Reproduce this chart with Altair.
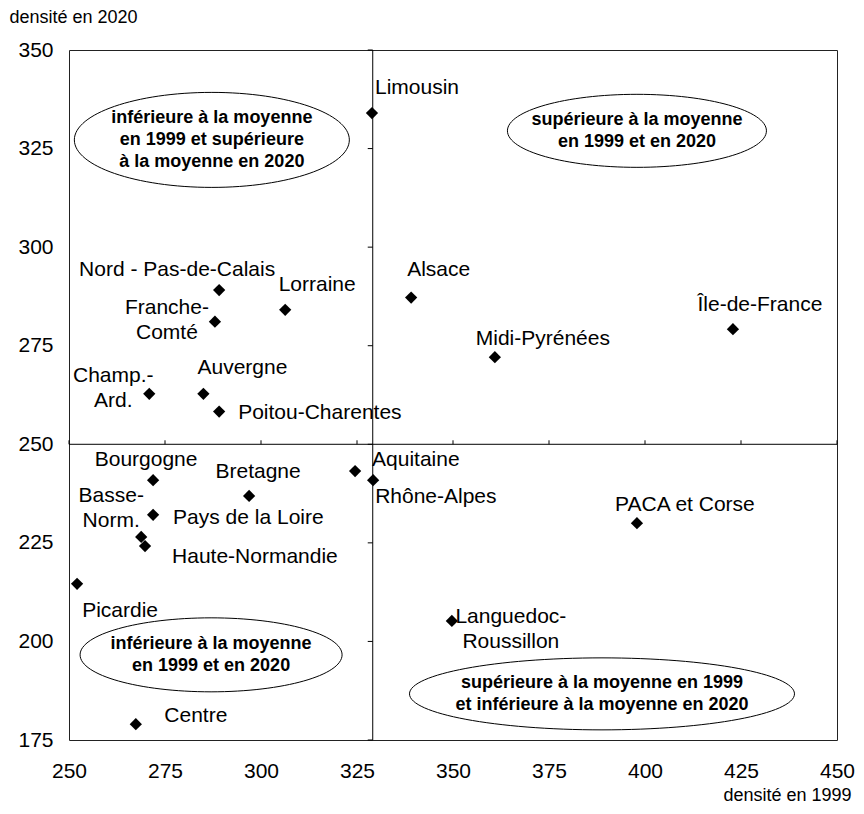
import altair as alt
import pandas as pd

# ---------------- data ----------------
regions = ["Limousin", "Nord - Pas-de-Calais", "Lorraine", "Franche-Comté", "Alsace",
           "Champ.-Ard.", "Auvergne", "Poitou-Charentes", "Île-de-France", "Midi-Pyrénées",
           "Bourgogne", "Basse-Norm.", "Bretagne", "Aquitaine", "Rhône-Alpes",
           "Pays de la Loire", "Haute-Normandie", "Picardie", "PACA et Corse",
           "Languedoc-Roussillon", "Centre"]
dens_1999 = [328.9, 289.1, 306.3, 288.0, 339.1,
             270.9, 285.0, 289.1, 422.9, 360.9,
             271.9, 268.8, 296.9, 324.5, 329.2,
             271.9, 269.8, 252.1, 397.9,
             349.7, 267.4]
dens_2020 = [334.0, 289.1, 284.1, 281.1, 287.2,
             262.8, 262.8, 258.3, 279.2, 272.1,
             240.9, 226.5, 236.9, 243.2, 240.9,
             232.1, 224.2, 214.6, 230.0,
             205.2, 179.0]
label_text = ["Limousin", "Nord - Pas-de-Calais", "Lorraine", "Franche-\nComté", "Alsace",
              "Champ.-\nArd.", "Auvergne", "Poitou-Charentes", "Île-de-France", "Midi-Pyrénées",
              "Bourgogne", "Basse-\nNorm.", "Bretagne", "Aquitaine", "Rhône-Alpes",
              "Pays de la Loire", "Haute-Normandie", "Picardie", "PACA et Corse",
              "Languedoc-\nRoussillon", "Centre"]

x_ticks = [250, 275, 300, 325, 350, 375, 400, 425, 450]
y_ticks = [175, 200, 225, 250, 275, 300, 325, 350]
mean_1999 = 329.1
mean_2020 = 250

quadrant_text = ["inférieure à la moyenne\nen 1999 et supérieure\nà la moyenne en 2020",
                 "supérieure à la moyenne\nen 1999 et en 2020",
                 "inférieure à la moyenne\nen 1999 et en 2020",
                 "supérieure à la moyenne en 1999\net inférieure à la moyenne en 2020"]
quadrant_x = [287.2, 397.9, 287.0, 388.8]
quadrant_y = [327.2, 329.5, 196.6, 186.7]

# ---------------- styling / placement ----------------
FONT = "Liberation Sans"
W, H = 768, 690
xs = alt.Scale(domain=[250, 450], nice=False, zero=False)
ys = alt.Scale(domain=[175, 350], nice=False, zero=False)

X_AXIS = alt.Axis(values=x_ticks, title="densité en 1999", grid=False, ticks=False, domain=False,
                  labelFlush=False, labelPadding=20, labelFontSize=21, labelFont=FONT,
                  labelColor="black",
                  titleFont=FONT, titleFontSize=18, titleFontWeight="normal", titleColor="black",
                  titleAlign="right", titleBaseline="middle", titleX=782, titleY=55)
Y_AXIS = alt.Axis(values=y_ticks, title="densité en 2020", grid=False, ticks=False, domain=False,
                  labelFlush=False, labelPadding=16, labelFontSize=21, labelFont=FONT,
                  labelColor="black",
                  titleFont=FONT, titleFontSize=18, titleFontWeight="normal", titleColor="black",
                  titleAngle=0, titleAlign="left", titleBaseline="middle", titleX=-60, titleY=-33)


def ex(f):
    return alt.X(f, type="quantitative", scale=xs, axis=X_AXIS)


def ey(f):
    return alt.Y(f, type="quantitative", scale=ys, axis=Y_AXIS)


# (align, dx, dy) for each label (dy = centre of the text block)
label_place = [("left", 3, -25), ("center", -42, -20), ("center", 32, -25), ("center", -48, -1),
               ("left", -4, -28), ("center", -36, -5), ("center", 39, -26), ("left", 19, 1),
               ("center", 27, -24), ("center", 48, -18), ("center", -7, -20), ("center", -30, -28),
               ("center", 9, -24), ("left", 17, -11), ("left", 2, 17), ("left", 20, 3),
               ("left", 27, 11), ("center", 43, 27), ("center", 48, -18), ("center", 59, 9),
               ("center", 60, -8)]
LABEL_LH = 25
# ellipse sizes in pixels (width, height)
ellipse_px = [(275, 95), (259, 73), (262, 74), (385, 72)]
QUAD_LH = 22

pts = pd.DataFrame({"region": regions, "x": dens_1999, "y": dens_2020, "label": label_text})

points = alt.Chart(pts).mark_point(shape="diamond", filled=True, color="black", size=150,
                                   opacity=1).encode(x=ex("x"), y=ey("y"))

# mean lines
vline = alt.Chart(pd.DataFrame({"m": [mean_1999]})).mark_rule(color="black", strokeWidth=1).encode(
    x=ex("m"))
hline = alt.Chart(pd.DataFrame({"m": [mean_2020]})).mark_rule(color="black", strokeWidth=1).encode(
    y=ey("m"))

# small ticks on the mean lines
vticks = alt.Chart(pd.DataFrame({"t": y_ticks, "m": [mean_1999] * len(y_ticks)})).mark_rule(
    color="black", strokeWidth=1, x2Offset=-5).encode(x=ex("m"), x2="m:Q", y=ey("t"))
hticks = alt.Chart(pd.DataFrame({"t": x_ticks, "m": [mean_2020] * len(x_ticks)})).mark_rule(
    color="black", strokeWidth=1, y2Offset=-4).encode(y=ey("m"), y2="m:Q", x=ex("t"))

layers = [vline, hline, vticks, hticks]

# quadrant ellipses and their texts
for i in range(len(quadrant_text)):
    w, h = ellipse_px[i]
    r = h / w
    path = f"M -1 0 A 1 {r:.4f} 0 0 1 1 0 A 1 {r:.4f} 0 0 1 -1 0 Z"
    d = pd.DataFrame({"x": [quadrant_x[i]], "y": [quadrant_y[i]], "t": [quadrant_text[i]]})
    ell = alt.Chart(d).mark_point(shape=path, size=w * w, filled=False, stroke="black",
                                  strokeWidth=1, opacity=1).encode(x=ex("x"), y=ey("y"))
    nlines = quadrant_text[i].count("\n") + 1
    txt = alt.Chart(d).mark_text(font=FONT, fontSize=18, fontWeight="bold", color="black",
                                 lineBreak="\n", lineHeight=QUAD_LH, align="center",
                                 baseline="middle", dy=-(nlines - 1) * QUAD_LH / 2).encode(
        x=ex("x"), y=ey("y"), text="t:N")
    layers += [ell, txt]

# point labels
for i in range(len(regions)):
    a, dx, dy = label_place[i]
    nlines = label_text[i].count("\n") + 1
    d = pts.iloc[[i]]
    lab = alt.Chart(d).mark_text(font=FONT, fontSize=21, color="black", lineBreak="\n",
                                 lineHeight=LABEL_LH, align=a, baseline="middle", dx=dx,
                                 dy=dy - (nlines - 1) * LABEL_LH / 2).encode(
        x=ex("x"), y=ey("y"), text="label:N")
    layers.append(lab)

layers.append(points)

chart = alt.layer(*layers).properties(
    width=W, height=H,
    autosize=alt.AutoSizeParams(type="none"),
    padding={"left": 61, "top": 42, "right": 19, "bottom": 66},
    background="white",
).configure_view(stroke="#222222", strokeWidth=1)

chart.save("out.html", embed_options={"renderer": "svg", "actions": False})
